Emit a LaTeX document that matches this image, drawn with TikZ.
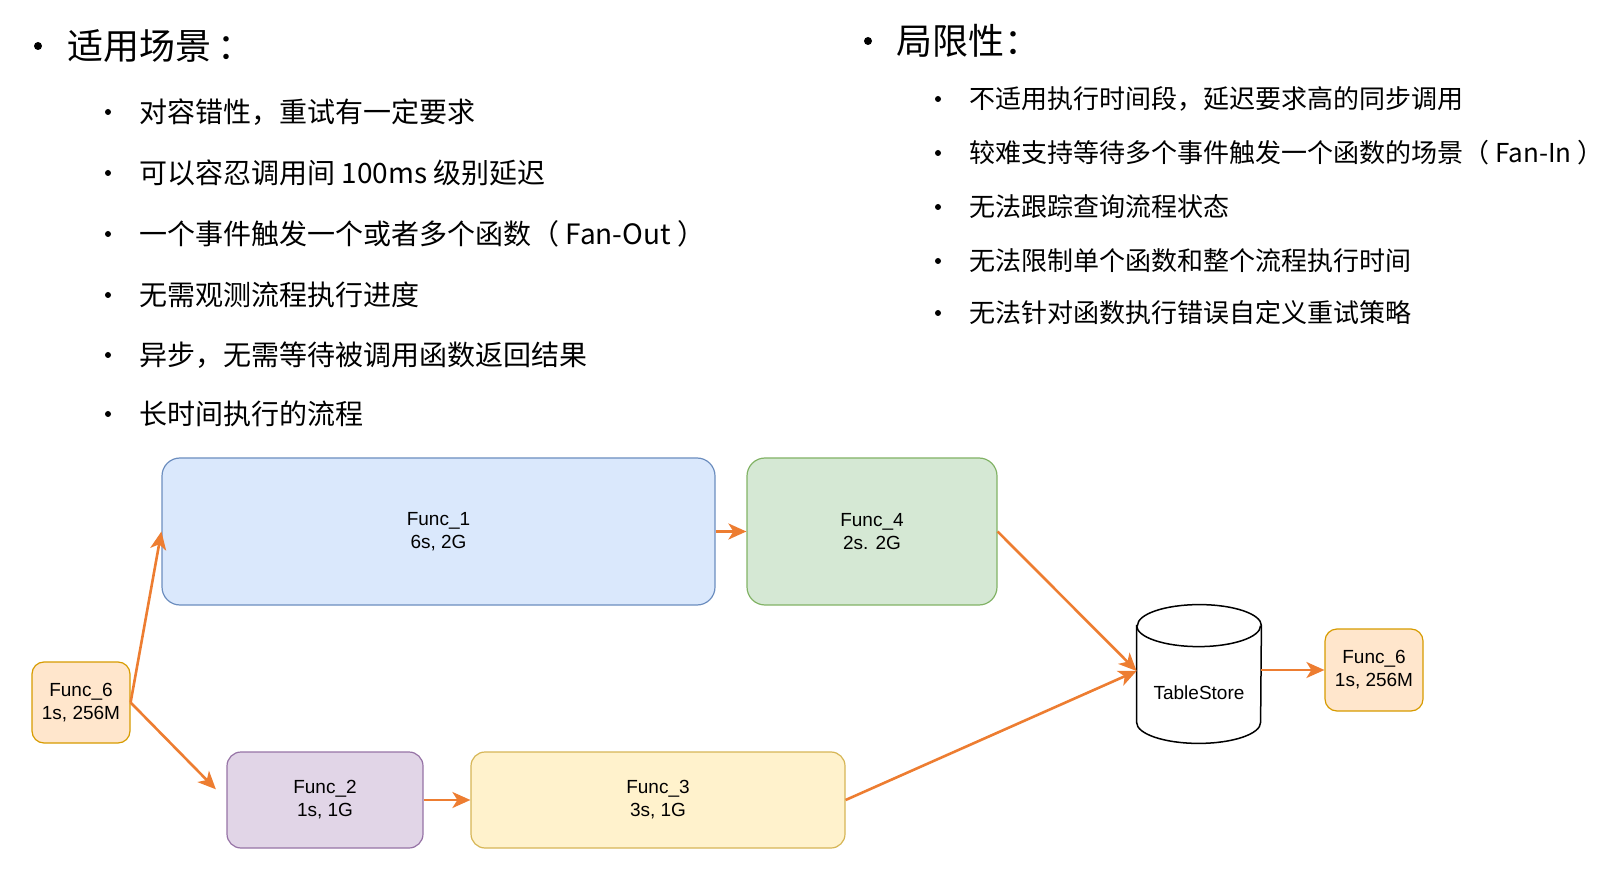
\documentclass[tikz,border=0pt]{standalone}
\usepackage{fontspec}
\setmainfont{Liberation Sans}
\newfontfamily\zhfont{Noto Sans CJK SC}
\usetikzlibrary{arrows.meta}

\definecolor{flowc}{HTML}{ED7D31}
\definecolor{orgfill}{HTML}{FFE6CC}\definecolor{orgline}{HTML}{D79B00}
\definecolor{bluefill}{HTML}{DAE8FC}\definecolor{blueline}{HTML}{6C8EBF}
\definecolor{grnfill}{HTML}{D5E8D4}\definecolor{grnline}{HTML}{82B366}
\definecolor{purfill}{HTML}{E1D5E7}\definecolor{purline}{HTML}{9673A6}
\definecolor{yelfill}{HTML}{FFF2CC}\definecolor{yelline}{HTML}{D6B656}

\tikzset{
  func/.style={draw, line width=0.6pt, align=center, inner sep=0pt,
    font=\fontsize{9.5}{11.5}\selectfont},
  flow/.style={draw=flowc, line width=1.3pt,
    -{Stealth[length=9pt,width=8pt,inset=2.5pt,fill=flowc]}},
  title/.style={anchor=west, inner sep=0pt, font=\zhfont\fontsize{18}{20}\selectfont},
  item/.style={anchor=west, inner sep=0pt, font=\zhfont\fontsize{14}{16}\selectfont},
  itemr/.style={anchor=west, inner sep=0pt, font=\zhfont\fontsize{13}{16}\selectfont},
  bigdot/.style={circle, fill, inner sep=0pt, minimum size=4pt},
  smalldot/.style={circle, fill, inner sep=0pt, minimum size=3pt},
  tank/.style={draw, line width=0.75pt}
}

\begin{document}
\begin{tikzpicture}[x=0.5pt, y=-0.5pt]
\useasboundingbox (0,0) rectangle (1616,876);
%
\node[bigdot] (dotL) at (38,46) {};
\node[title] (useT) at (67,46) {适用场景\kern3pt：};
\node[smalldot] (dL1) at (108,112) {};
\node[item] (use1) at (139,112) {对容错性，重试有一定要求};
\node[smalldot] (dL2) at (108,173) {};
\node[item] (use2) at (139,173) {可以容忍调用间 100ms 级别延迟};
\node[smalldot] (dL3) at (108,234) {};
\node[item] (use3) at (139,234) {一个事件触发一个或者多个函数（ Fan-Out ）};
\node[smalldot] (dL4) at (108,295) {};
\node[item] (use4) at (139,295) {无需观测流程执行进度};
\node[smalldot] (dL5) at (108,355) {};
\node[item] (use5) at (139,355) {异步，无需等待被调用函数返回结果};
\node[smalldot] (dL6) at (108,414) {};
\node[item] (use6) at (139,414) {长时间执行的流程};
%
\node[bigdot] (dotR) at (868,41) {};
\node[title] (limT) at (896,41) {局限性：};
\node[smalldot] (dR1) at (938,99) {};
\node[itemr] (lim1) at (969,99) {不适用执行时间段，延迟要求高的同步调用};
\node[smalldot] (dR2) at (938,153) {};
\node[itemr] (lim2) at (969,153) {较难支持等待多个事件触发一个函数的场景（ Fan-In ）};
\node[smalldot] (dR3) at (938,207) {};
\node[itemr] (lim3) at (969,207) {无法跟踪查询流程状态};
\node[smalldot] (dR4) at (938,261) {};
\node[itemr] (lim4) at (969,261) {无法限制单个函数和整个流程执行时间};
\node[smalldot] (dR5) at (938,313) {};
\node[itemr] (lim5) at (969,313) {无法针对函数执行错误自定义重试策略};
%
\node[func, fill=orgfill, draw=orgline, rounded corners=6pt, minimum width=49pt, minimum height=40.5pt] (f6a) at (81,702.5) {Func\_6\\1s, 256M};
\node[func, fill=bluefill, draw=blueline, rounded corners=9pt, minimum width=276.5pt, minimum height=73.5pt] (f1) at (438.5,531.5) {Func\_1\\6s, 2G};
\node[func, fill=grnfill, draw=grnline, rounded corners=9pt, minimum width=125pt, minimum height=73.5pt] (f4) at (872,531.5) {Func\_4\\2s. 2G};
\node[func, fill=purfill, draw=purline, rounded corners=7pt, minimum width=98pt, minimum height=48pt] (f2) at (325,800) {Func\_2\\1s, 1G};
\node[func, fill=yelfill, draw=yelline, rounded corners=7pt, minimum width=187pt, minimum height=48pt] (f3) at (658,800) {Func\_3\\3s, 1G};
\node[func, fill=orgfill, draw=orgline, rounded corners=6pt, minimum width=49pt, minimum height=41pt] (f6b) at (1374,670) {Func\_6\\1s, 256M};
%
\node[inner sep=0pt, minimum width=62pt, minimum height=69pt] (store) at (1199,674) {};
\draw[tank, fill=white] ([yshift=-10.5pt]store.north west) -- ([yshift=10.5pt]store.south west)
  arc[start angle=180, end angle=360, x radius=31pt, y radius=10.5pt]
  -- ([yshift=-10.5pt]store.north east)
  arc[start angle=0, end angle=180, x radius=31pt, y radius=10.5pt] -- cycle;
\draw[tank] ([yshift=-10.5pt]store.north west) arc[start angle=180, end angle=360, x radius=31pt, y radius=10.5pt];
\node[inner sep=0pt, font=\fontsize{9.5}{11.5}\selectfont] (storeL) at ([yshift=-9.5pt]store.center) {TableStore};
\coordinate (storein) at ([yshift=1.5pt]store.west);
%
\draw[flow] (f6a.east) -- (f1.west);
\draw[flow, shorten >=7.5pt] (f6a.east) -- (f2.west);
\draw[flow] (f2.east) -- (f3.west);
\draw[flow] (f1.east) -- (f4.west);
\draw[flow] (f4.east) -- (storein);
\draw[flow] (f3.east) -- (storein);
\draw[flow] (store.east |- f6b.west) -- (f6b.west);
%%%%%%%%%%%%%%%%%%%%%%%%%%%%%%%
\end{tikzpicture}
\end{document}
